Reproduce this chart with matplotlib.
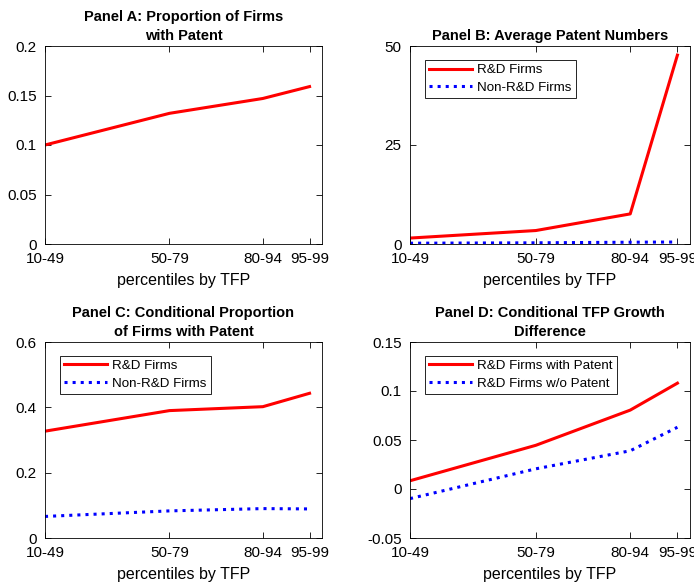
import numpy as np
import matplotlib
matplotlib.use("Agg")
import matplotlib.pyplot as plt

# percentile groups (lower bound used as x position)
x_pos = [10, 50, 80, 95]
x_labels = ["10-49", "50-79", "80-94", "95-99"]

# Panel A
prop_patent = [0.100, 0.132, 0.147, 0.159]

# Panel B
avg_pat_rd = [1.5, 3.4, 7.6, 47.7]
avg_pat_nonrd = [0.2, 0.3, 0.45, 0.5]

# Panel C
cond_prop_rd = [0.327, 0.390, 0.402, 0.443]
cond_prop_nonrd = [0.066, 0.083, 0.090, 0.089]

# Panel D
tfp_with_pat = [0.0084, 0.0446, 0.0805, 0.108]
tfp_without_pat = [-0.0098, 0.0206, 0.039, 0.063]

plt.rcParams['font.family'] = ['Liberation Sans', 'DejaVu Sans']
plt.rcParams['font.size'] = 10.5
red = "#ff0000"
blue = "#0000ff"

fig = plt.figure(figsize=(6.94, 5.87), dpi=100)
W, H = 694, 587


def make_ax(left, right, top, bottom):
    return fig.add_axes([left / W, 1 - bottom / H, (right - left) / W, (bottom - top) / H])


axA = make_ax(45, 322, 46, 244)
axB = make_ax(410, 690, 46, 244)
axC = make_ax(45, 322, 342, 538)
axD = make_ax(410, 690, 342, 538)


def style(ax, title, ylim, yticks, yticklabels):
    ax.set_xlim(10, 99)
    ax.set_xticks(x_pos)
    ax.set_xticklabels(x_labels)
    ax.set_ylim(*ylim)
    ax.set_yticks(yticks)
    ax.set_yticklabels(yticklabels)
    ax.tick_params(direction="in", top=True, right=True, length=4, width=0.6, labelsize=11)
    ax.tick_params(axis="x", pad=6)
    ax.tick_params(axis="y", pad=6)
    for s in ax.spines.values():
        s.set_linewidth(0.6)
    ax.set_xlabel("percentiles by TFP", fontsize=11.5, labelpad=5)
    ax.set_title(title, fontsize=10.5, fontweight="bold", pad=4, linespacing=1.45)


def legend(ax):
    leg = ax.legend(loc="upper left", bbox_to_anchor=(0.055, 0.93), fancybox=False,
                    edgecolor="black", framealpha=1, fontsize=9.6, handlelength=3.2,
                    borderpad=0.3, labelspacing=0.4, handletextpad=0.4, borderaxespad=0)
    leg.get_frame().set_linewidth(0.6)


axA.plot(x_pos, prop_patent, color=red, lw=2.2)
style(axA, "Panel A: Proportion of Firms\nwith Patent", (0, 0.2),
      [0, 0.05, 0.1, 0.15, 0.2], ["0", "0.05", "0.1", "0.15", "0.2"])

axB.plot(x_pos, avg_pat_rd, color=red, lw=2.2, label="R&D Firms")
axB.plot(x_pos, avg_pat_nonrd, color=blue, lw=2.2, ls=":", label="Non-R&D Firms")
style(axB, "Panel B: Average Patent Numbers", (0, 50), [0, 25, 50], ["0", "25", "50"])
legend(axB)

axC.plot(x_pos, cond_prop_rd, color=red, lw=2.2, label="R&D Firms")
axC.plot(x_pos, cond_prop_nonrd, color=blue, lw=2.2, ls=":", label="Non-R&D Firms")
style(axC, "Panel C: Conditional Proportion\nof Firms with Patent", (0, 0.6),
      [0, 0.2, 0.4, 0.6], ["0", "0.2", "0.4", "0.6"])
legend(axC)

axD.plot(x_pos, tfp_with_pat, color=red, lw=2.2, label="R&D Firms with Patent")
axD.plot(x_pos, tfp_without_pat, color=blue, lw=2.2, ls=":", label="R&D Firms w/o Patent")
style(axD, "Panel D: Conditional TFP Growth\nDifference", (-0.05, 0.15),
      [-0.05, 0, 0.05, 0.1, 0.15], ["-0.05", "0", "0.05", "0.1", "0.15"])
legend(axD)

fig.savefig("out.png", dpi=100)
